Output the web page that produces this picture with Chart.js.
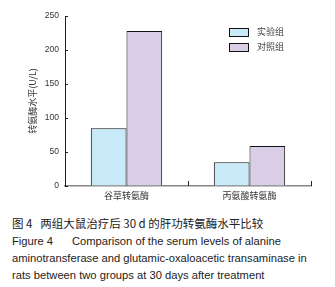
<!DOCTYPE html>
<html lang="zh">
<head>
  <meta charset="UTF-8">
  <title>图4 转氨酶水平比较</title>
  <script src="https://cdn.jsdelivr.net/npm/chart.js"></script>
  <style>
    body { margin: 0; background: #fff; width: 335px; height: 287px; overflow: hidden; }
    .wrap { position: relative; width: 335px; height: 205px; }
    .legend { position: absolute; left: 229px; top: 26px; font: 9px "Noto Sans CJK SC", sans-serif; color: #444; }
    .legend div { height: 15px; line-height: 11px; }
    .legend span.box { display: inline-block; width: 18px; height: 7px; border: 1px solid #111; vertical-align: middle; margin-right: 8px; }
    .caption { position: absolute; left: 12px; top: 213px; color: #222; }
    .caption .cn { font: 11.5px "Noto Sans CJK SC", sans-serif; height: 20px; line-height: 20px; }
    .caption .en { font: 11.2px "Liberation Sans", Arial, sans-serif; height: 17px; line-height: 17px; white-space: nowrap; }
    .fig { display: inline-block; width: 60px; }
  </style>
</head>
<body>
  <div class="wrap">
    <canvas id="enzymeChart" width="335" height="205"></canvas>
    <div class="legend" id="legend"></div>
  </div>
  <div class="caption">
    <div class="cn">图 4&nbsp;&nbsp;&nbsp;两组大鼠治疗后 30 d 的肝功转氨酶水平比较</div>
    <div class="en"><span class="fig">Figure 4</span>Comparison of the serum levels of alanine</div>
    <div class="en">aminotransferase and glutamic-oxaloacetic transaminase in</div>
    <div class="en">rats between two groups at 30 days after treatment</div>
  </div>

  <script>
    var categories = ["谷草转氨酶", "丙氨酸转氨酶"];
    var seriesNames = ["实验组", "对照组"];
    var experimentValues = [85, 35];
    var controlValues = [228, 59];
    var yTicks = [0, 50, 100, 150, 200, 250];
    var colors = ["#c8e9f7", "#dacde6"];

    // small inward tick marks like the printed figure
    var tickMarks = {
      id: "tickMarks",
      afterDraw: function (chart) {
        var ctx = chart.ctx, x = chart.scales.x, y = chart.scales.y, area = chart.chartArea;
        ctx.save();
        ctx.strokeStyle = "#222";
        ctx.lineWidth = 1;
        ctx.beginPath();
        y.ticks.forEach(function (t) {
          var py = Math.round(y.getPixelForValue(t.value)) + 0.5;
          ctx.moveTo(area.left, py);
          ctx.lineTo(area.left + 3, py);
        });
        for (var i = 1; i <= categories.length; i++) {
          var px = Math.round(x.getPixelForValue(i - 0.5)) + 0.5;
          ctx.moveTo(px, area.bottom);
          ctx.lineTo(px, area.bottom - 5);
        }
        ctx.stroke();
        ctx.restore();
      }
    };

    var ctx = document.getElementById("enzymeChart").getContext("2d");
    var enzymeChart = new Chart(ctx, {
      type: "bar",
      data: {
        labels: categories,
        datasets: [
          { label: seriesNames[0], data: experimentValues, backgroundColor: colors[0], borderColor: "#111", borderWidth: 1 },
          { label: seriesNames[1], data: controlValues, backgroundColor: colors[1], borderColor: "#111", borderWidth: 1 }
        ]
      },
      options: {
        responsive: false,
        animation: false,
        layout: { padding: { top: 16, right: 24, left: 0, bottom: 0 } },
        datasets: { bar: { categoryPercentage: 0.58, barPercentage: 1 } },
        plugins: { legend: { display: false }, tooltip: { enabled: false } },
        scales: {
          x: {
            grid: { display: true, drawOnChartArea: false, drawTicks: false },
            border: { color: "#888", width: 1.5 },
            ticks: { color: "#333", padding: 4, font: { size: 9, family: "Noto Sans CJK SC" } },
            afterFit: function (scale) { scale.height = 19; }
          },
          y: {
            min: 0,
            max: 250,
            afterBuildTicks: function (scale) { scale.ticks = yTicks.map(function (v) { return { value: v }; }); },
            grid: { display: true, drawOnChartArea: false, drawTicks: false },
            border: { color: "#222", width: 1 },
            ticks: { color: "#333", padding: 6, font: { size: 8.5, family: "Liberation Sans" } },
            title: {
              display: true,
              text: "转氨酶水平(U/L)",
              color: "#333",
              font: { size: 9, family: "Noto Sans CJK SC" },
              padding: { top: 27, bottom: 0 }
            },
            afterFit: function (scale) { scale.width = 65; }
          }
        }
      },
      plugins: [tickMarks]
    });

    var legendEl = document.getElementById("legend");
    seriesNames.forEach(function (name, i) {
      var row = document.createElement("div");
      row.innerHTML = '<span class="box" style="background:' + colors[i] + '"></span>' + name;
      legendEl.appendChild(row);
    });
  </script>
</body>
</html>
